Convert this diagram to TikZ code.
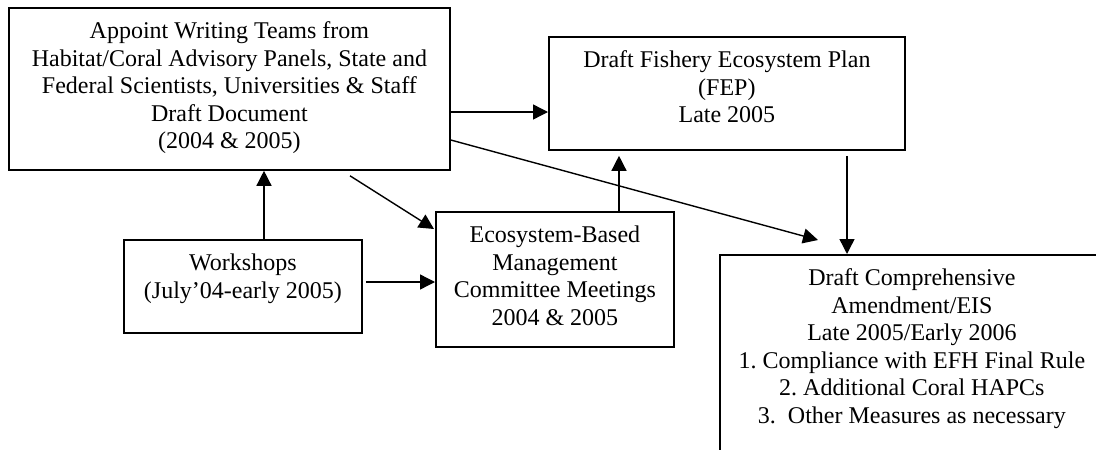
\documentclass[tikz,border=0pt]{standalone}
\usepackage{fontspec}
\setmainfont{Liberation Serif}
\usetikzlibrary{arrows.meta,calc}
\newcommand{\bxt}[3]{\parbox[c][#2pt][t]{#1pt}{\frenchspacing\centering\rule{0pt}{30.5pt}#3}}
\begin{document}
\begin{tikzpicture}[x=1pt,y=-1pt,
  box/.style={draw, line width=1.8pt, inner sep=0pt, anchor=north west,
    font=\fontsize{24pt}{27.6pt}\selectfont},
  arr/.style={line width=1.4pt, -{Triangle[length=15pt,width=15pt]}}]
\useasboundingbox (0,0) rectangle (1096,450);
\clip (0,0) rectangle (1096,450);
\node[box] (a) at (8,7) {\bxt{441}{162}{Appoint Writing Teams from\\Habitat/Coral Advisory Panels, State and\\Federal Scientists, Universities \& Staff\\Draft Document\\(2004 \& 2005)}};
\node[box] (fep) at (548,36) {\bxt{356}{113}{Draft Fishery Ecosystem Plan\\(FEP)\\Late 2005}};
\node[box] (ws) at (123,239) {\bxt{238}{93}{Workshops\\(July’04-early 2005)}};
\node[box] (eco) at (435,211) {\bxt{238}{135}{Ecosystem-Based\\Management\\Committee Meetings\\2004 \& 2005}};
\node[box] (comp) at (719,254) {\bxt{384}{240}{Draft Comprehensive\\Amendment/EIS\\Late 2005/Early 2006\\1. Compliance with EFH Final Rule\\2. Additional Coral HAPCs\\3.\ \ Other Measures as necessary}};
\draw[arr] (a.east |- 0,112) -- (fep.west |- 0,112);
\draw[arr] (a.east |- 0,140) -- ($(comp.north west)+(99,-14)$);
\draw[arr] ($(fep.south -| 847,0)+(0,5)$) -- (comp.north -| 847,0);
\draw[arr] (eco.north -| 619,0) -- ($(fep.south -| 619,0)+(0,5)$);
\draw[arr] ($(a.south west)+(342,5)$) -- ($(eco.north west)+(-1,18)$);
\draw[arr] (ws.north -| 264,0) -- (a.south -| 264,0);
\draw[arr] ($(ws.east |- 0,282)+(3,0)$) -- (eco.west |- 0,282);
\end{tikzpicture}
\end{document}
